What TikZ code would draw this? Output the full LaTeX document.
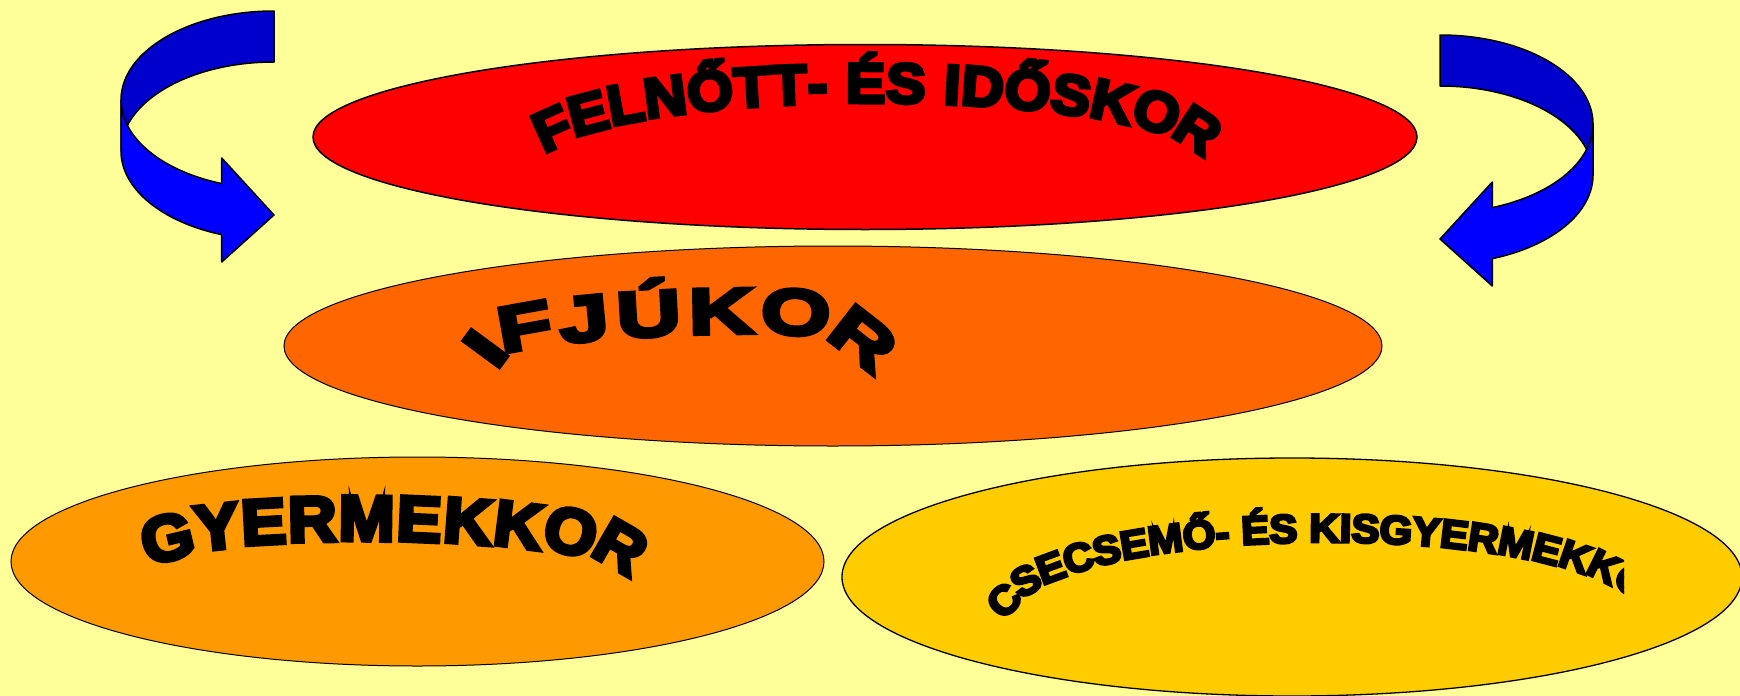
\documentclass[tikz,border=0pt]{standalone}
\usepackage{fontspec}
\usepackage{tikz}
\usetikzlibrary{shapes.geometric,decorations.text}

\newfontfamily\artfont{Liberation Sans Bold}[FakeBold=7, FakeStretch=1.05]
\newfontfamily\artwide{Liberation Sans Bold}[FakeBold=7, FakeStretch=1.4]

\definecolor{paper}{HTML}{FFFF99}
\definecolor{oldage}{HTML}{FF0000}
\definecolor{youth}{HTML}{FF6600}
\definecolor{childhood}{HTML}{FF9900}
\definecolor{infancy}{HTML}{FFCC00}
\definecolor{bandfront}{HTML}{0000FF}
\definecolor{bandback}{HTML}{0000CC}

% curved 3d arrow, origin at the top of the cut end
\tikzset{
  turnarrow/.pic={
    \draw[arrowline, fill=bandback] (0,0) arc[start angle=90, end angle=180, x radius=153pt, y radius=89pt]
      -- ++(0,-51) arc[start angle=180, end angle=90, x radius=153pt, y radius=89pt] -- cycle;
    \draw[arrowline, fill=bandfront] (-153,-89) -- (-153,-140)
      arc[start angle=180, end angle=250, x radius=153pt, y radius=89pt]
      -- (-52.3,-251) -- (0,-204) -- (-52.3,-147) -- (-52.3,-172.6)
      arc[start angle=250, end angle=180, x radius=153pt, y radius=89pt] -- cycle;
  }
}

\begin{document}
\begin{tikzpicture}[x=1pt, y=1pt,
  stage/.style={ellipse, draw=black, line width=1pt, inner sep=0pt},
  arrowline/.style={draw=black, line width=1.5pt, line join=round},
  wordart/.style={decorate, decoration={text along path, text={#1}, text align=fit to path}}]

  \useasboundingbox (0,0) rectangle (1740,-696);
  \fill[paper] (0,0) rectangle (1740,-696);

  % arrows
  \pic at (274,-11) {turnarrow};
  \pic[xscale=-1] at (1440,-35) {turnarrow};

  % stages
  \node[stage, fill=oldage, line width=1.5pt, minimum width=1104, minimum height=185] (felnott) at (865,-137) {};
  \node[stage, fill=youth, minimum width=1098, minimum height=200] (ifjukor) at (833,-346) {};
  \node[stage, fill=childhood, minimum width=813, minimum height=209] (gyermek) at (417.5,-561.5) {};
  \node[stage, fill=infancy, line width=1.3pt, minimum width=900, minimum height=238] (csecsemo) at (1292,-577) {};

  % arched titles (path runs through the letter middles)
  \path[wordart={|\artfont\fontsize{56}{60}\selectfont|FELNŐTT- ÉS IDŐSKOR},
        decoration={raise=-19pt, transform={xshift=-18pt}}]
    (553,-130) .. controls (645.9,-67.4) and (1103.1,-69) .. (1197,-130) -- ++(-33:40);
  \path[wordart={|\artwide\fontsize{64}{70}\selectfont|IFJÚKOR},
        decoration={raise=-22pt}]
    (478,-358.5) -- (496,-334) .. controls (537,-315) and (794.2,-302.7) .. (836.5,-318.1)
    -- ++(-38:66);
  \path[wordart={|\artfont\fontsize{64}{70}\selectfont|GYERMEKKOR},
        decoration={raise=-22pt, transform={xshift=-24pt}}]
    (166,-541) .. controls (224,-507.5) and (563,-513.5) .. (621,-547) -- ++(-30:48);
  \begin{scope}
    \clip (0,0) rectangle (1624,-696);
    \path[wordart={|\artfont\fontsize{40}{45}\selectfont|CSECSEMŐ- ÉS KISGYERMEKKOR},
          decoration={raise=-14pt, transform={xshift=-13pt}}]
      (1004,-603) .. controls (1057,-503.2) and (1599,-503.2) .. (1652,-603) -- ++(-62:30);
  \end{scope}
\end{tikzpicture}
\end{document}
